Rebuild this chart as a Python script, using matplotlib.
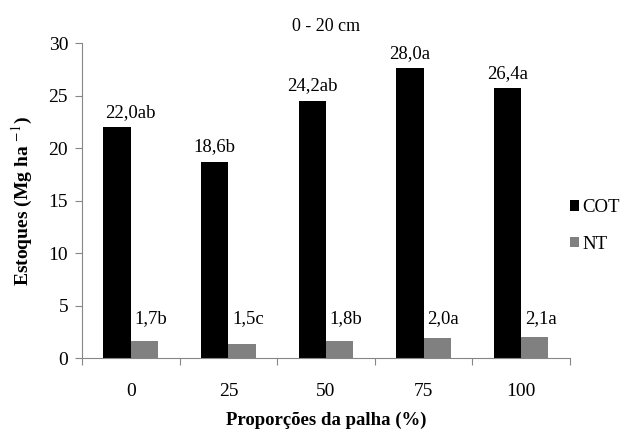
import matplotlib
matplotlib.use("Agg")
import matplotlib.pyplot as plt
import numpy as np

# ------------------ dados ----------------------
categorias = ["0", "25", "50", "75", "100"]
cot = [22.0, 18.7, 24.5, 27.6, 25.7]
nt = [1.65, 1.36, 1.65, 1.96, 2.06]
rotulos_cot = ["22,0ab", "18,6b", "24,2ab", "28,0a", "26,4a"]
rotulos_nt = ["1,7b", "1,5c", "1,8b", "2,0a", "2,1a"]

plt.rcParams["font.family"] = ["Liberation Serif", "DejaVu Serif"]
plt.rcParams["mathtext.fontset"] = "stix"

fig = plt.figure(figsize=(6.24, 4.33), dpi=100)
ax = fig.add_axes([0.1314, 0.1725, 0.782, 0.728])

x = np.arange(len(categorias))
larg = 0.28
ax.bar(x - larg / 2, cot, larg, color="black", label="COT")
ax.bar(x + larg / 2, nt, larg, color="#808080", label="NT")

# rótulos de valores (posicionados como no original)
desl_cot = [0.14, 0.0, 0.0, 0.0, 0.0]
for i in range(len(categorias)):
    ax.text(x[i] - larg / 2 + desl_cot[i], cot[i] + 0.6, rotulos_cot[i],
            ha="center", va="bottom", fontsize=13.5)
    ax.text(x[i] + 0.2, 3.8, rotulos_nt[i], ha="center", va="center", fontsize=13.5)

ax.set_xlim(-0.5, len(categorias) - 0.5)
ax.set_ylim(0, 30)
ax.set_yticks(range(0, 31, 5))

ax.set_xticks(np.arange(-0.5, len(categorias), 1.0))
ax.set_xticklabels([])
ax.set_xticks(x, minor=True)
ax.set_xticklabels(categorias, minor=True)
ax.tick_params(axis="x", which="minor", length=0, pad=18, labelsize=14)
ax.tick_params(axis="x", which="major", length=5, color="#868686", direction="out")
ax.tick_params(axis="y", length=5, color="#868686", direction="out", labelsize=14, pad=5)

for lado in ["top", "right"]:
    ax.spines[lado].set_visible(False)
for lado in ["left", "bottom"]:
    ax.spines[lado].set_color("#868686")

ax.set_title("0 - 20 cm", fontsize=13, pad=9)
ax.set_xlabel("Proporções da palha (%)", fontsize=13.5, fontweight="bold", labelpad=8)
ax.set_ylabel("Estoques (Mg ha $^{-1}$)", fontsize=14, fontweight="bold", labelpad=10)

ax.legend(loc="center left", bbox_to_anchor=(1.0, 0.42), frameon=False, fontsize=13.5,
          handlelength=0.5, handleheight=0.5, handletextpad=0.15, labelspacing=1.05,
          borderpad=0, borderaxespad=0)

fig.savefig("out.png", dpi=100)
